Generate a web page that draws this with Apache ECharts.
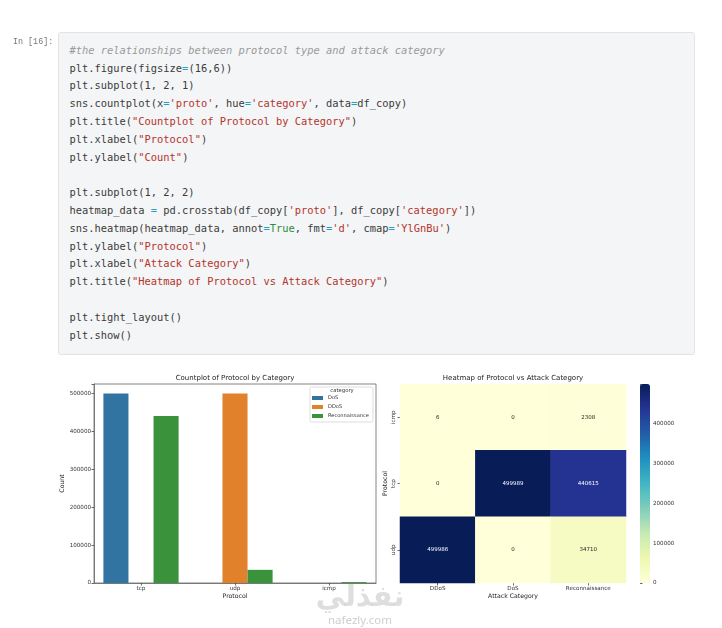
<!DOCTYPE html>
<html><head><meta charset="utf-8">
<script src="https://cdn.jsdelivr.net/npm/echarts@6/dist/echarts.min.js"></script>
<style>
html,body{margin:0;padding:0;background:#fff;width:722px;height:628px;overflow:hidden;}
#chart{position:absolute;left:0;top:0;width:722px;height:628px;z-index:0;}
#prompt{position:absolute;left:13px;top:37px;font:8.4px/10px "Liberation Mono",monospace;color:#777;z-index:1;}
#cell{position:absolute;left:58px;top:31.5px;width:637px;height:323px;box-sizing:border-box;background:#f4f5f6;border:1px solid #e2e3e5;border-radius:3px;z-index:1;}
#code{position:absolute;left:69.5px;top:41.8px;margin:0;font:10.4px/17.8px "DejaVu Sans Mono",monospace;color:#3b3b3b;white-space:pre;z-index:2;}
.c{color:#9a9a9a;font-style:italic}
.s{color:#b3342c}
.o{color:#2a9fb8}
.k{color:#2e8b3a}
</style></head>
<body>
<div id="chart"></div>
<div id="prompt">In [16]:</div>
<div id="cell"></div>
<pre id="code"><span class="c">#the relationships between protocol type and attack category</span>
plt.figure(figsize<span class="o">=</span>(16,6))
plt.subplot(1, 2, 1)
sns.countplot(x<span class="o">=</span><span class="s">'proto'</span>, hue<span class="o">=</span><span class="s">'category'</span>, data<span class="o">=</span>df_copy)
plt.title(<span class="s">"Countplot of Protocol by Category"</span>)
plt.xlabel(<span class="s">"Protocol"</span>)
plt.ylabel(<span class="s">"Count"</span>)

plt.subplot(1, 2, 2)
heatmap_data <span class="o">=</span> pd.crosstab(df_copy[<span class="s">'proto'</span>], df_copy[<span class="s">'category'</span>])
sns.heatmap(heatmap_data, annot<span class="o">=</span><span class="k">True</span>, fmt<span class="o">=</span><span class="s">'d'</span>, cmap<span class="o">=</span><span class="s">'YlGnBu'</span>)
plt.ylabel(<span class="s">"Protocol"</span>)
plt.xlabel(<span class="s">"Attack Category"</span>)
plt.title(<span class="s">"Heatmap of Protocol vs Attack Category"</span>)

plt.tight_layout()
plt.show()</pre>
<script>
// ---- data ----
const protocols = ['tcp', 'udp', 'icmp'];
const hueCategories = ['DoS', 'DDoS', 'Reconnaissance'];
const dosCounts = [499989, 0, 0];
const ddosCounts = [0, 499986, 6];
const reconCounts = [440615, 34710, 2308];

const heatRows = ['icmp', 'tcp', 'udp'];
const heatCols = ['DDoS', 'DoS', 'Reconnaissance'];
const heatIcmp = [6, 0, 2308];
const heatTcp = [0, 499989, 440615];
const heatUdp = [499986, 0, 34710];

const countAxisMax = 524988;
const colorbarMax = 499989;
const tickStep = 100000;

// ---- build ----
const FONT = 'DejaVu Sans';
const heatMatrix = [heatIcmp, heatTcp, heatUdp];
const heatData = [];
heatMatrix.forEach((row, i) => row.forEach((v, j) => {
  heatData.push({ value: [j, i, v], label: { color: v > colorbarMax / 2 ? '#ffffff' : '#262626' } });
}));
const tickFmt = v => (v % tickStep === 0 ? String(v) : '');
const ylgnbu = ['#ffffd9','#edf8b1','#c7e9b4','#7fcdbb','#41b6c4','#1d91c0','#225ea8','#253494','#081d58'];

const chart = echarts.init(document.getElementById('chart'), null, { renderer: 'canvas' });
const tickStyle = { show: true, length: 2.5, lineStyle: { color: '#444', width: 0.8 } };
const lblStyle = { fontSize: 5.6, color: '#333', fontFamily: FONT, margin: 3 };
const nameStyle = { fontSize: 6.2, color: '#222', fontFamily: FONT };

chart.setOption({
  animation: false,
  textStyle: { fontFamily: FONT },
  title: [
    { text: 'Countplot of Protocol by Category', left: 235, top: 374.5, textAlign: 'center', padding: 0,
      textStyle: { fontSize: 7, fontWeight: 'normal', color: '#222', fontFamily: FONT } },
    { text: 'Heatmap of Protocol vs Attack Category', left: 513, top: 374.5, textAlign: 'center', padding: 0,
      textStyle: { fontSize: 7, fontWeight: 'normal', color: '#222', fontFamily: FONT } }
  ],
  legend: {
    data: hueCategories, orient: 'vertical', left: 312, top: 395, padding: 0,
    itemWidth: 11, itemHeight: 4, itemGap: 3, icon: 'rect',
    textStyle: { fontSize: 5.1, lineHeight: 6, color: '#333', fontFamily: FONT }
  },
  grid: [
    { left: 94, top: 384, width: 282, height: 199, show: true, borderColor: '#666', borderWidth: 0.8, backgroundColor: 'transparent', containLabel: false },
    { left: 400, top: 384, width: 226, height: 199, containLabel: false },
    { left: 640, top: 384, width: 10, height: 199, containLabel: false }
  ],
  xAxis: [
    { type: 'category', gridIndex: 0, data: protocols,
      axisLine: { show: true, lineStyle: { color: '#666', width: 0.8 } },
      axisTick: Object.assign({ alignWithLabel: true }, tickStyle),
      axisLabel: lblStyle, name: 'Protocol', nameLocation: 'middle', nameGap: 10, nameTextStyle: nameStyle },
    { type: 'category', gridIndex: 1, data: heatCols,
      axisLine: { show: false }, axisTick: Object.assign({ alignWithLabel: true }, tickStyle),
      axisLabel: lblStyle, splitArea: { show: false },
      name: 'Attack Category', nameLocation: 'middle', nameGap: 10, nameTextStyle: nameStyle },
    { type: 'value', gridIndex: 2, show: false, min: 0, max: 1 }
  ],
  yAxis: [
    { type: 'value', gridIndex: 0, min: 0, max: countAxisMax, interval: tickStep,
      axisLine: { show: true, lineStyle: { color: '#666', width: 0.8 } },
      axisTick: tickStyle, splitLine: { show: false },
      axisLabel: Object.assign({ formatter: tickFmt }, lblStyle),
      name: 'Count', nameLocation: 'middle', nameGap: 28, nameTextStyle: nameStyle },
    { type: 'category', gridIndex: 1, data: heatRows, inverse: true,
      axisLine: { show: false }, axisTick: Object.assign({ alignWithLabel: true }, tickStyle),
      axisLabel: Object.assign({ rotate: 90 }, lblStyle), splitArea: { show: false },
      name: 'Protocol', nameLocation: 'middle', nameGap: 12, nameTextStyle: nameStyle },
    { type: 'value', gridIndex: 2, position: 'right', min: 0, max: colorbarMax, interval: tickStep,
      axisLine: { show: false }, axisTick: tickStyle, splitLine: { show: false },
      axisLabel: Object.assign({ formatter: tickFmt }, lblStyle) }
  ],
  visualMap: {
    type: 'continuous', seriesIndex: 3, min: 0, max: colorbarMax,
    left: 640, top: 384, itemWidth: 10, itemHeight: 199, padding: 0,
    calculable: false, hoverLink: false, text: null, showLabel: false,
    inRange: { color: ylgnbu }
  },
  series: [
    { name: 'DoS', type: 'bar', xAxisIndex: 0, yAxisIndex: 0, data: dosCounts, itemStyle: { color: '#3274a1' }, barGap: '0%', barCategoryGap: '20%' },
    { name: 'DDoS', type: 'bar', xAxisIndex: 0, yAxisIndex: 0, data: ddosCounts, itemStyle: { color: '#e1812c' }, barGap: '0%', barCategoryGap: '20%' },
    { name: 'Reconnaissance', type: 'bar', xAxisIndex: 0, yAxisIndex: 0, data: reconCounts, itemStyle: { color: '#3a923a' }, barGap: '0%', barCategoryGap: '20%' },
    { name: 'crosstab', type: 'heatmap', xAxisIndex: 1, yAxisIndex: 1, data: heatData,
      label: { show: true, fontSize: 5.5, fontFamily: FONT, formatter: p => String(p.value[2]) },
      emphasis: { disabled: true } }
  ],
  graphic: [
    { type: 'rect', shape: { x: 310, y: 387, width: 63, height: 35, r: 1.5 }, z: 0, zlevel: 0,
      style: { fill: 'rgba(255,255,255,0.85)', stroke: '#d4d4d4', lineWidth: 0.8 } },
    { type: 'text', x: 342, y: 391, z: 10,
      style: { text: 'category', fontSize: 5.3, fontFamily: FONT, fill: '#333', align: 'center', verticalAlign: 'middle' } },
    { type: 'text', x: 360, y: 598, z: 100,
      style: { text: 'نفذلي', fontSize: 29, fontWeight: 'bold', fontFamily: 'DejaVu Sans', fill: 'rgba(190,190,190,0.5)', align: 'center', verticalAlign: 'middle' } },
    { type: 'text', x: 360, y: 621, z: 100,
      style: { text: 'nafezly.com', fontSize: 11.5, fontFamily: 'Noto Sans', fill: 'rgba(185,185,185,0.7)', align: 'center', verticalAlign: 'middle' } }
  ]
});
</script>
</body></html>
